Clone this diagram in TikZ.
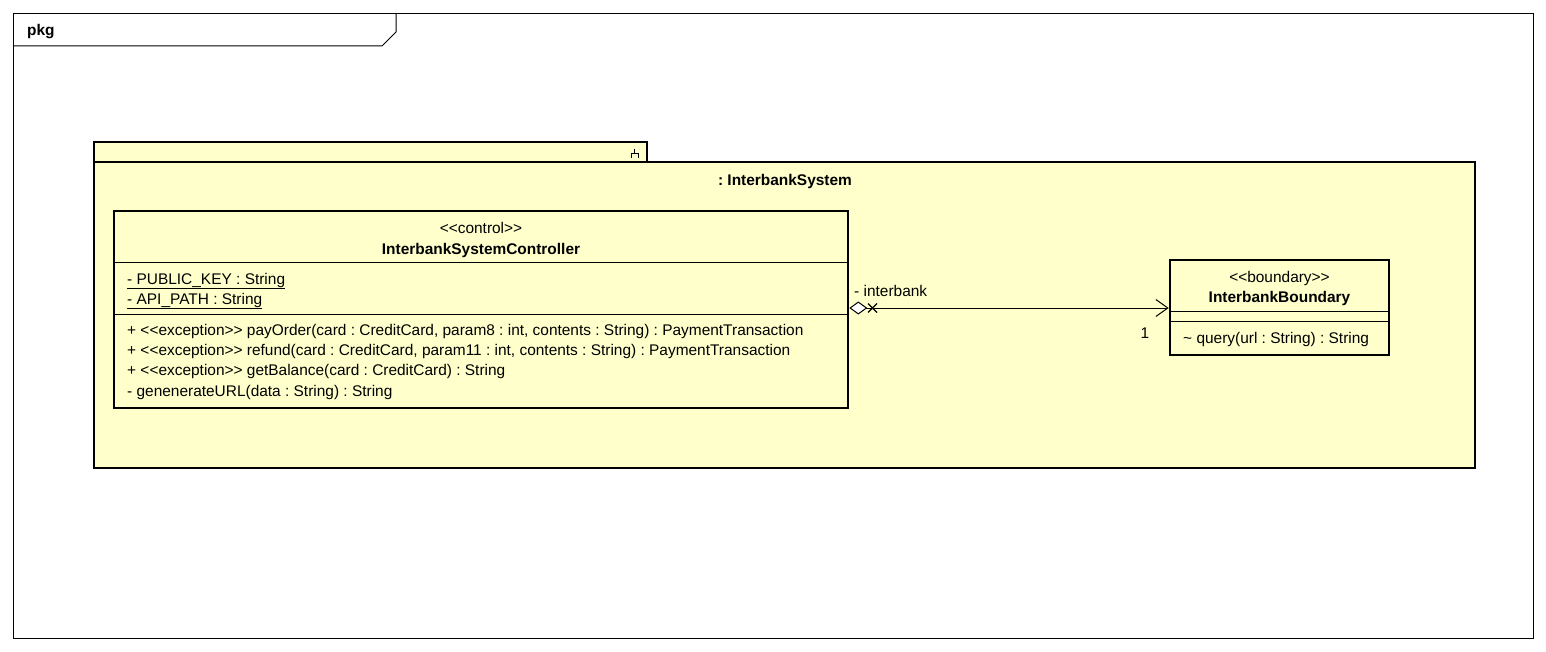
\documentclass[tikz,border=0pt]{standalone}
\usepackage{fontspec}
\setmainfont{Liberation Sans}
\usetikzlibrary{arrows.meta}
\definecolor{umlyellow}{RGB}{255,255,204}
\frenchspacing
\begin{document}
\begin{tikzpicture}[x=1bp,y=-1bp,
  txt/.style={inner sep=0pt, font=\fontsize{15.5}{18}\selectfont},
  btxt/.style={inner sep=0pt, font=\fontsize{15.5}{18}\selectfont\bfseries},
  thickbox/.style={draw, line width=2.6bp, fill=umlyellow, inner sep=0pt},
  sep/.style={line width=1bp},
  assoc/.style={line width=1bp, {Diamond[open,fill=white,length=18bp,width=13bp,line width=1bp]}-{Straight Barb[length=12bp,width=17bp,line width=1bp]}}
]
\useasboundingbox[fill=white] (0,0) rectangle (1546,652);
% outer frame
\node[draw, line width=1bp, minimum width=1519bp, minimum height=624bp, inner sep=0pt] (frame) at (773.5,326) {};
\draw[line width=1bp] (14,46) -- (382,46) -- (396,32) -- (396,14);
\node[btxt, anchor=base west] (pkglbl) at (27,36) {pkg};
% package InterbankSystem
\node[thickbox, minimum width=553bp, minimum height=20bp] (ptab) at (370.5,152) {};
\node[thickbox, minimum width=1381bp, minimum height=306bp] (pbody) at (784.5,315) {};
\draw[line width=1bp] (634.5,148.5) -- (634.5,153) (631,157.5) -- (631,153) -- (638,153) -- (638,157.5);
\node[btxt, anchor=base] (ptitle) at (785,185) {: InterbankSystem};
% controller class
\node[thickbox, minimum width=734bp, minimum height=197bp] (ctrl) at (481,309.5) {};
\draw[sep] (114,262) -- (848,262) (114,314) -- (848,314);
\node[txt, anchor=base] (cst) at (481,233) {<{}<control>{}>};
\node[btxt, anchor=base] (cname) at (481,254) {InterbankSystemController};
\node[txt, anchor=base west] (ca1) at (127,284) {\underline{- PUBLIC\_KEY : String}};
\node[txt, anchor=base west] (ca2) at (127,304) {\underline{- API\_PATH : String}};
\node[txt, anchor=base west] (co1) at (127,335) {+ <{}<exception>{}> payOrder(card : CreditCard, param8 : int, contents : String) : PaymentTransaction};
\node[txt, anchor=base west] (co2) at (127,355) {+ <{}<exception>{}> refund(card : CreditCard, param11 : int, contents : String) : PaymentTransaction};
\node[txt, anchor=base west] (co3) at (127,375) {+ <{}<exception>{}> getBalance(card : CreditCard) : String};
\node[txt, anchor=base west] (co4) at (127,396) {- genenerateURL(data : String) : String};
% boundary class
\node[thickbox, minimum width=219bp, minimum height=95bp] (bnd) at (1279.5,307.5) {};
\draw[sep] (1170,311) -- (1389,311) (1170,321) -- (1389,321);
\node[txt, anchor=base] (bst) at (1279.5,282) {<{}<boundary>{}>};
\node[btxt, anchor=base] (bname) at (1279.5,302) {InterbankBoundary};
\node[txt, anchor=base west] (bo1) at (1183,343) {\textasciitilde{} query(url : String) : String};
% association
\coordinate (ay) at (0,308);
\draw[assoc] (ctrl.east |- ay) -- (bnd.west |- ay);
\draw[line width=1.2bp] (868,303.5) -- (877,312.5) (868,312.5) -- (877,303.5);
\node[txt, anchor=base west] (role) at (854,296) {- interbank};
\node[txt, anchor=base] (mult) at (1145,338) {1};
\end{tikzpicture}
\end{document}
